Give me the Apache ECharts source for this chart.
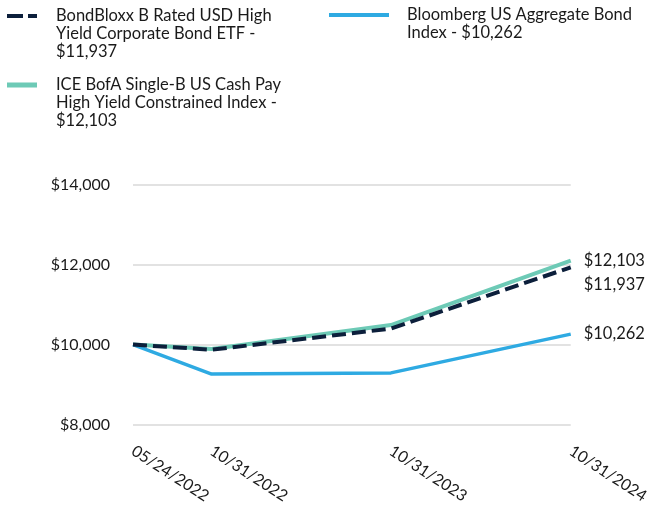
<!DOCTYPE html>
<html><head><meta charset="utf-8">
<script src="https://cdn.jsdelivr.net/npm/echarts@6/dist/echarts.min.js"></script>
<style>html,body{margin:0;padding:0;background:#fff}#c{width:652px;height:506px}</style>
</head><body><div id="c"></div>
<script>
const dates = ['2022-05-24', '2022-10-31', '2023-10-31', '2024-10-31'];
const etfName = 'BondBloxx B Rated USD High Yield Corporate Bond ETF';
const iceName = 'ICE BofA Single-B US Cash Pay High Yield Constrained Index';
const aggName = 'Bloomberg US Aggregate Bond Index';
const etfValues = [10000, 9870, 10400, 11937];
const iceValues = [10000, 9890, 10490, 12103];
const aggValues = [10000, 9260, 9290, 10262];
const legendText = {
  [etfName]: 'BondBloxx B Rated USD High\nYield Corporate Bond ETF -\n$11,937',
  [iceName]: 'ICE BofA Single-B US Cash Pay\nHigh Yield Constrained Index -\n$12,103',
  [aggName]: 'Bloomberg US Aggregate Bond\nIndex - $10,262'
};
const yTicks = [8000, 10000, 12000, 14000];

const FONT = 'Lato';
const TXT = '#1a1a1a';
const C_ETF = '#0c1f3b', C_ICE = '#6dcab6', C_AGG = '#2eaae2';

function ts(d) { const p = d.split('-').map(Number); return Date.UTC(p[0], p[1] - 1, p[2]); }
function fmtDate(v) {
  const d = new Date(v);
  const mm = String(d.getUTCMonth() + 1).padStart(2, '0');
  const dd = String(d.getUTCDate()).padStart(2, '0');
  return mm + '/' + dd + '/' + d.getUTCFullYear();
}
const dateTs = dates.map(ts);
function pairs(vals) { return dateTs.map((d, i) => [d, vals[i]]); }
function money(v) { return '$' + Math.round(v).toLocaleString('en-US'); }

const chart = echarts.init(document.getElementById('c'), null, {renderer: 'canvas'});
const textStyle = {fontFamily: FONT, fontSize: 16.5, color: TXT, lineHeight: 18};

chart.setOption({
  animation: false,
  textStyle: {fontFamily: FONT},
  legend: [
    {
      orient: 'vertical', left: 7, top: 7, padding: 0, itemWidth: 44, itemHeight: 54, itemGap: 15,
      textStyle: textStyle,
      formatter: n => legendText[n],
      data: [
        {name: etfName, icon: 'path://M0,7h16v4h-16z M21,7h9v4h-9z M0,0L0,0 M44,54L44,54', itemStyle: {color: C_ETF, opacity: 1}},
        {name: iceName, icon: 'path://M0,6.5h30v5h-30z M0,0L0,0 M44,54L44,54', itemStyle: {color: C_ICE, opacity: 1}}
      ]
    },
    {
      orient: 'vertical', left: 329, top: 6, padding: 0, itemWidth: 73, itemHeight: 36, itemGap: 10,
      textStyle: textStyle,
      formatter: n => legendText[n],
      data: [
        {name: aggName, icon: 'path://M0,7h60v4h-60z M0,0L0,0 M73,36L73,36', itemStyle: {color: C_AGG, opacity: 1}}
      ]
    }
  ],
  grid: {left: 133, right: 79, top: 185, bottom: 79.5, containLabel: false},
  xAxis: {
    type: 'value',
    min: dateTs[0], max: dateTs[dateTs.length - 1],
    axisLine: {show: false},
    axisTick: {show: false},
    splitLine: {show: false},
    axisLabel: {
      customValues: dateTs,
      rotate: -33,
      margin: 25,
      fontFamily: FONT, fontSize: 16, color: TXT,
      formatter: v => fmtDate(v),
      hideOverlap: false,
      showMinLabel: true, showMaxLabel: true
    }
  },
  yAxis: {
    type: 'value', min: 8000, max: 14000, interval: 2000,
    axisLine: {show: false}, axisTick: {show: false},
    splitLine: {lineStyle: {color: '#d9d9d9', width: 1.5}},
    axisLabel: {
      margin: 23, fontFamily: FONT, fontSize: 16, color: TXT,
      formatter: v => money(v)
    }
  },
  series: [
    {
      name: iceName, type: 'line', data: pairs(iceValues), showSymbol: false, symbol: 'none',
      lineStyle: {color: C_ICE, width: 4}, itemStyle: {color: C_ICE}, z: 2,
      endLabel: {show: true, distance: 13, formatter: p => money(p.value[1]), fontFamily: FONT, fontSize: 16.5, color: TXT, offset: [0, 0]}
    },
    {
      name: aggName, type: 'line', data: pairs(aggValues), showSymbol: false, symbol: 'none',
      lineStyle: {color: C_AGG, width: 3.5}, itemStyle: {color: C_AGG}, z: 3,
      endLabel: {show: true, distance: 13, formatter: p => money(p.value[1]), fontFamily: FONT, fontSize: 16.5, color: TXT, offset: [0, 0]}
    },
    {
      name: etfName, type: 'line', data: pairs(etfValues), showSymbol: false, symbol: 'none',
      lineStyle: {color: C_ETF, width: 4, type: [14, 6]}, itemStyle: {color: C_ETF}, z: 4,
      endLabel: {show: true, distance: 13, formatter: p => money(p.value[1]), fontFamily: FONT, fontSize: 16.5, color: TXT, offset: [0, 17]}
    }
  ]
});
</script></body></html>
